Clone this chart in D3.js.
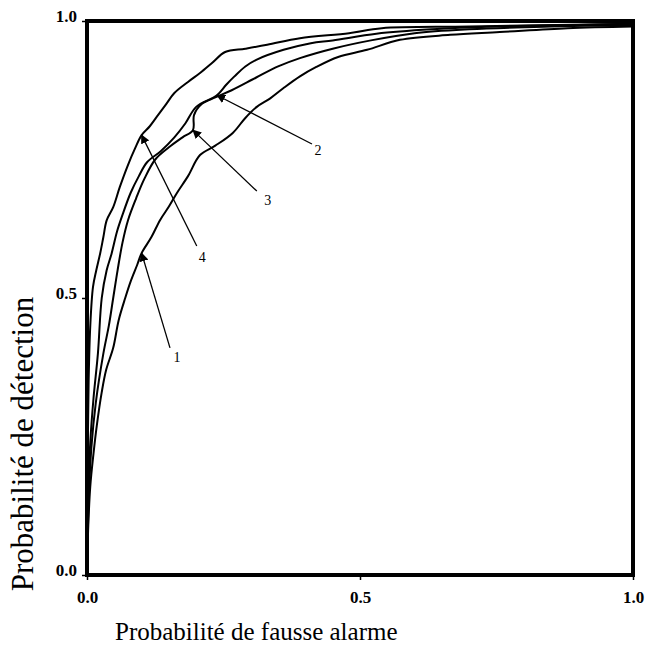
<!DOCTYPE html>
<html>
<head>
<meta charset="utf-8">
<script src="https://cdn.jsdelivr.net/npm/d3@7/dist/d3.min.js"></script>
<style>
  body { margin: 0; background: #fff; }
  svg text { font-family: "Liberation Serif", "Times New Roman", serif; fill: #000; }
</style>
</head>
<body>
<svg id="chart" width="661" height="650"></svg>
<script>
// ROC curves, [fausse alarme, détection]
var curve1 = [[0,0],[0.002,0.08],[0.006,0.16],[0.012,0.22],[0.018,0.27],[0.027,0.33],[0.035,0.37],[0.048,0.41],[0.058,0.46],[0.07,0.50],[0.08,0.53],[0.092,0.56],[0.10,0.581],[0.118,0.61],[0.134,0.641],[0.15,0.665],[0.165,0.69],[0.185,0.72],[0.207,0.758],[0.235,0.775],[0.267,0.798],[0.29,0.825],[0.311,0.845],[0.335,0.86],[0.36,0.879],[0.39,0.90],[0.42,0.917],[0.46,0.935],[0.513,0.948],[0.573,0.966],[0.665,0.975],[0.756,0.98],[0.88,0.987],[1,0.99]];
var curve2 = [[0,0],[0.002,0.14],[0.006,0.24],[0.012,0.32],[0.02,0.40],[0.027,0.50],[0.036,0.55],[0.045,0.58],[0.055,0.62],[0.065,0.65],[0.08,0.69],[0.095,0.72],[0.11,0.745],[0.135,0.765],[0.16,0.79],[0.18,0.815],[0.20,0.845],[0.238,0.866],[0.255,0.885],[0.27,0.90],[0.29,0.918],[0.31,0.93],[0.36,0.948],[0.41,0.96],[0.45,0.965],[0.53,0.977],[0.63,0.985],[0.75,0.99],[0.9,0.993],[1,0.995]];
var curve3 = [[0,0],[0.003,0.13],[0.008,0.23],[0.016,0.31],[0.03,0.40],[0.04,0.45],[0.048,0.50],[0.056,0.55],[0.065,0.60],[0.075,0.64],[0.09,0.68],[0.105,0.715],[0.125,0.75],[0.15,0.772],[0.175,0.79],[0.194,0.803],[0.196,0.83],[0.21,0.85],[0.235,0.862],[0.265,0.875],[0.31,0.898],[0.35,0.918],[0.39,0.933],[0.45,0.95],[0.52,0.965],[0.6,0.978],[0.7,0.985],[0.85,0.99],[1,0.993]];
var curve4 = [[0,0],[0.001,0.2],[0.003,0.35],[0.006,0.45],[0.011,0.52],[0.017,0.55],[0.024,0.58],[0.03,0.61],[0.036,0.64],[0.048,0.664],[0.06,0.70],[0.075,0.74],[0.088,0.77],[0.10,0.794],[0.115,0.81],[0.13,0.83],[0.145,0.85],[0.16,0.87],[0.185,0.89],[0.207,0.906],[0.23,0.925],[0.253,0.944],[0.29,0.95],[0.33,0.957],[0.39,0.969],[0.48,0.978],[0.54,0.987],[0.7,0.99],[1,0.995]];
var curves = [curve1, curve2, curve3, curve4];

// annotations: label, label position, arrow start, arrow tip
var labelNames = ["1", "2", "3", "4"];
var labelPos = [[0.165,0.394],[0.423,0.767],[0.331,0.677],[0.211,0.574]];
var arrowFrom = [[0.152,0.41],[0.412,0.778],[0.311,0.693],[0.201,0.594]];
var arrowTip = [[0.10,0.581],[0.238,0.866],[0.194,0.803],[0.10,0.794]];

var tickValues = [0, 0.5, 1];
var tickLabels = ["0.0", "0.5", "1.0"];

var margin = {left: 87, top: 21, right: 28, bottom: 75};
var svg = d3.select("#chart");
var W = 661 - margin.left - margin.right;
var H = 650 - margin.top - margin.bottom;

var x = d3.scaleLinear().domain([0, 1]).range([0, W]);
var y = d3.scaleLinear().domain([0, 1]).range([H, 0]);

var g = svg.append("g").attr("transform", "translate(" + margin.left + "," + margin.top + ")");

svg.append("defs").append("marker")
    .attr("id", "head")
    .attr("viewBox", "0 0 10 10")
    .attr("refX", 9).attr("refY", 5)
    .attr("markerWidth", 9).attr("markerHeight", 9)
    .attr("markerUnits", "userSpaceOnUse")
    .attr("orient", "auto")
  .append("path")
    .attr("d", "M0,0L10,5L0,10z")
    .attr("fill", "#000");

// axes
var xAxis = d3.axisBottom(x).tickValues(tickValues)
    .tickFormat(function(d, i) { return tickLabels[i]; })
    .tickSize(5).tickPadding(9);
var yAxis = d3.axisLeft(y).tickValues(tickValues)
    .tickFormat(function(d, i) { return tickLabels[i]; })
    .tickSize(5).tickPadding(5);

var gx = g.append("g").attr("transform", "translate(0," + H + ")").call(xAxis);
var gy = g.append("g").call(yAxis);
[gx, gy].forEach(function(a) {
    a.select(".domain").remove();
    a.selectAll("line").attr("stroke", "#000").attr("stroke-width", 1.5);
    a.selectAll("text")
        .style("font-family", "'Liberation Serif', serif")
        .style("font-weight", "bold")
        .style("font-size", "17px");
});
gy.selectAll("text").attr("dy", "0");
gx.selectAll("text").attr("dy", "0.85em");

// frame
g.append("rect")
    .attr("x", 0).attr("y", 0)
    .attr("width", W).attr("height", H)
    .attr("fill", "none")
    .attr("stroke", "#000")
    .attr("stroke-width", 4);

var line = d3.line()
    .x(function(d) { return x(d[0]); })
    .y(function(d) { return y(d[1]); })
    .curve(d3.curveCatmullRom.alpha(0.5));

g.selectAll("path.roc")
    .data(curves)
    .enter().append("path")
    .attr("class", "roc")
    .attr("d", line)
    .attr("fill", "none")
    .attr("stroke", "#000")
    .attr("stroke-width", 2);

// arrows and labels
g.selectAll("line.arrow")
    .data(labelNames)
    .enter().append("line")
    .attr("class", "arrow")
    .attr("x1", function(d, i) { return x(arrowFrom[i][0]); })
    .attr("y1", function(d, i) { return y(arrowFrom[i][1]); })
    .attr("x2", function(d, i) { return x(arrowTip[i][0]); })
    .attr("y2", function(d, i) { return y(arrowTip[i][1]); })
    .attr("stroke", "#000")
    .attr("stroke-width", 1.3)
    .attr("marker-end", "url(#head)");

g.selectAll("text.lab")
    .data(labelNames)
    .enter().append("text")
    .attr("class", "lab")
    .attr("x", function(d, i) { return x(labelPos[i][0]); })
    .attr("y", function(d, i) { return y(labelPos[i][1]); })
    .attr("dy", "0.35em")
    .attr("text-anchor", "middle")
    .style("font-size", "14px")
    .text(function(d) { return d; });

// titles
svg.append("text")
    .attr("x", 115)
    .attr("y", 640)
    .style("font-size", "25px")
    .text("Probabilité de fausse alarme");

svg.append("text")
    .attr("transform", "translate(33,444) rotate(-90)")
    .attr("text-anchor", "middle")
    .style("font-size", "31px")
    .text("Probabilité de détection");
</script>
</body>
</html>
